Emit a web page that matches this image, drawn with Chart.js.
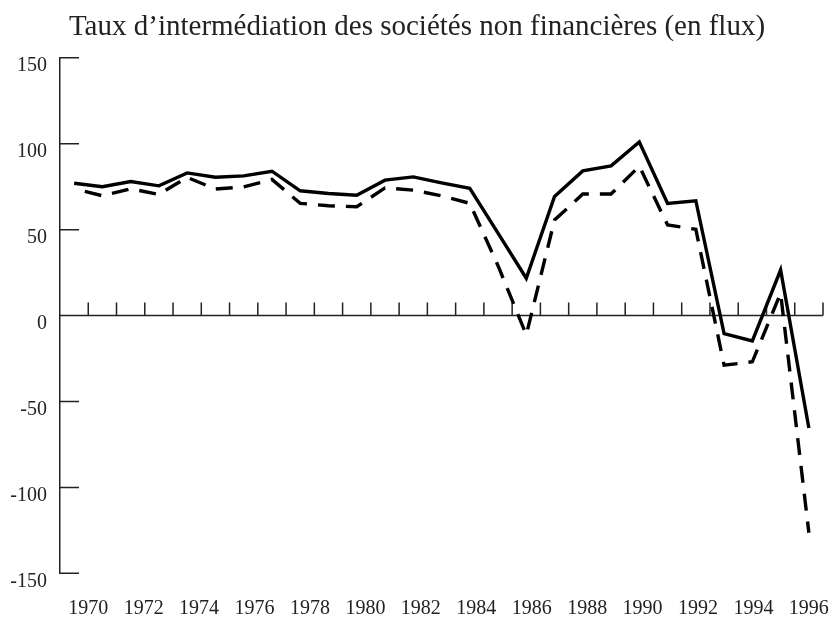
<!DOCTYPE html>
<html>
<head>
<meta charset="utf-8">
<script src="https://cdn.jsdelivr.net/npm/chart.js@4/dist/chart.umd.min.js"></script>
<style>
  html, body { margin: 0; padding: 0; background: #fff; }
  #wrap { width: 834px; height: 618px; }
</style>
</head>
<body>
<div id="wrap"><canvas id="intermChart" width="834" height="618"></canvas></div>
<script>
// années (une valeur par an)
const years = [1970, 1971, 1972, 1973, 1974, 1975, 1976, 1977, 1978, 1979,
  1980, 1981, 1982, 1983, 1984, 1985, 1986, 1987, 1988, 1989,
  1990, 1991, 1992, 1993, 1994, 1995, 1996];

// trait plein
const seriesSolid = [77, 75, 78, 75.5, 83, 80.5, 81.3, 84, 72.6, 71,
  70, 78.8, 80.7, 77.2, 74, 48, 21.7, 69.3, 84.2, 87.1,
  101, 65.3, 66.8, -10.5, -14.8, 26.5, -65.4];

// trait pointillé
const seriesDashed = [73.8, 69.7, 73.8, 70.5, 80.4, 73.6, 74.9, 79.2, 65.3, 63.9,
  63.3, 74.3, 73, 69.7, 65.3, 29, -11.2, 55.6, 70.7, 70.7,
  86.9, 52.7, 50.2, -28.9, -26.9, 13, -126.4];

const yTicks = [-150, -100, -50, 0, 50, 100, 150];
const xTickLabels = [1970, 1972, 1974, 1976, 1978, 1980, 1982, 1984, 1986, 1988, 1990, 1992, 1994, 1996];

const INK = "#222";
const serif = "'Liberation Serif', 'DejaVu Serif', serif";

/* axes dessinés à la main : ligne du zéro + petites graduations */
const axisMarks = {
  id: "axisMarks",
  beforeDatasetsDraw(chart) {
    const { ctx, chartArea } = chart;
    const xs = chart.scales.x;
    const ys = chart.scales.y;
    const y0 = ys.getPixelForValue(0);
    ctx.save();
    ctx.strokeStyle = INK;
    ctx.lineWidth = 1.5;
    ctx.beginPath();
    ctx.moveTo(chartArea.left, y0);
    ctx.lineTo(chartArea.right, y0);
    years.forEach(yr => {
      const px = xs.getPixelForValue(yr + 0.5);
      ctx.moveTo(px, y0);
      ctx.lineTo(px, y0 - 13);
    });
    yTicks.forEach(v => {
      const py = ys.getPixelForValue(v);
      ctx.moveTo(chartArea.left, py);
      ctx.lineTo(chartArea.left + 19, py);
    });
    ctx.stroke();
    ctx.restore();
  }
};

new Chart(document.getElementById("intermChart"), {
  type: "line",
  data: {
    labels: years,
    datasets: [
      {
        label: "solide",
        data: seriesSolid,
        borderColor: "#000",
        borderWidth: 3.4,
        pointRadius: 0,
        tension: 0,
        fill: false
      },
      {
        label: "pointillé",
        data: seriesDashed,
        borderColor: "#000",
        borderWidth: 3.4,
        borderDash: [17, 11],
        borderDashOffset: 17,
        pointRadius: 0,
        tension: 0,
        fill: false
      }
    ]
  },
  options: {
    responsive: false,
    animation: false,
    layout: { padding: { left: 11, right: 11, top: 0, bottom: 0 } },
    plugins: {
      legend: { display: false },
      tooltip: { enabled: false },
      title: {
        display: true,
        text: "Taux d\u2019intermédiation des sociétés non financières (en flux)",
        color: INK,
        font: { family: serif, size: 29, weight: "normal", lineHeight: 1.2 },
        padding: { top: 10, bottom: 13 }
      }
    },
    scales: {
      x: {
        type: "linear",
        min: 1969.5,
        max: 1996.5,
        display: false
      },
      xLab: {
        type: "linear",
        position: "bottom",
        min: 1970 - 26 / 25.5,
        max: 1970 + 26 * 26 / 25.5,
        grid: { display: false, drawTicks: false },
        border: { display: false },
        afterBuildTicks: s => { s.ticks = xTickLabels.map(v => ({ value: v })); },
        afterFit: s => { s.height = 44.7; s.paddingLeft = 0; s.paddingRight = 0; },
        ticks: {
          color: INK,
          padding: 23,
          maxRotation: 0,
          autoSkip: false,
          font: { family: serif, size: 20 },
          callback: v => String(v)
        }
      },
      y: {
        type: "linear",
        min: -150,
        max: 150,
        grid: { display: false, drawTicks: false },
        border: { display: true, color: INK, width: 1.5 },
        afterBuildTicks: s => { s.ticks = yTicks.map(v => ({ value: v })); },
        afterFit: s => { s.width = 49; s.paddingTop = 0; s.paddingBottom = 0; },
        ticks: {
          color: INK,
          padding: 13,
          labelOffset: 8,
          font: { family: serif, size: 20 },
          callback: v => String(v)
        }
      }
    }
  },
  plugins: [axisMarks]
});
</script>
</body>
</html>
